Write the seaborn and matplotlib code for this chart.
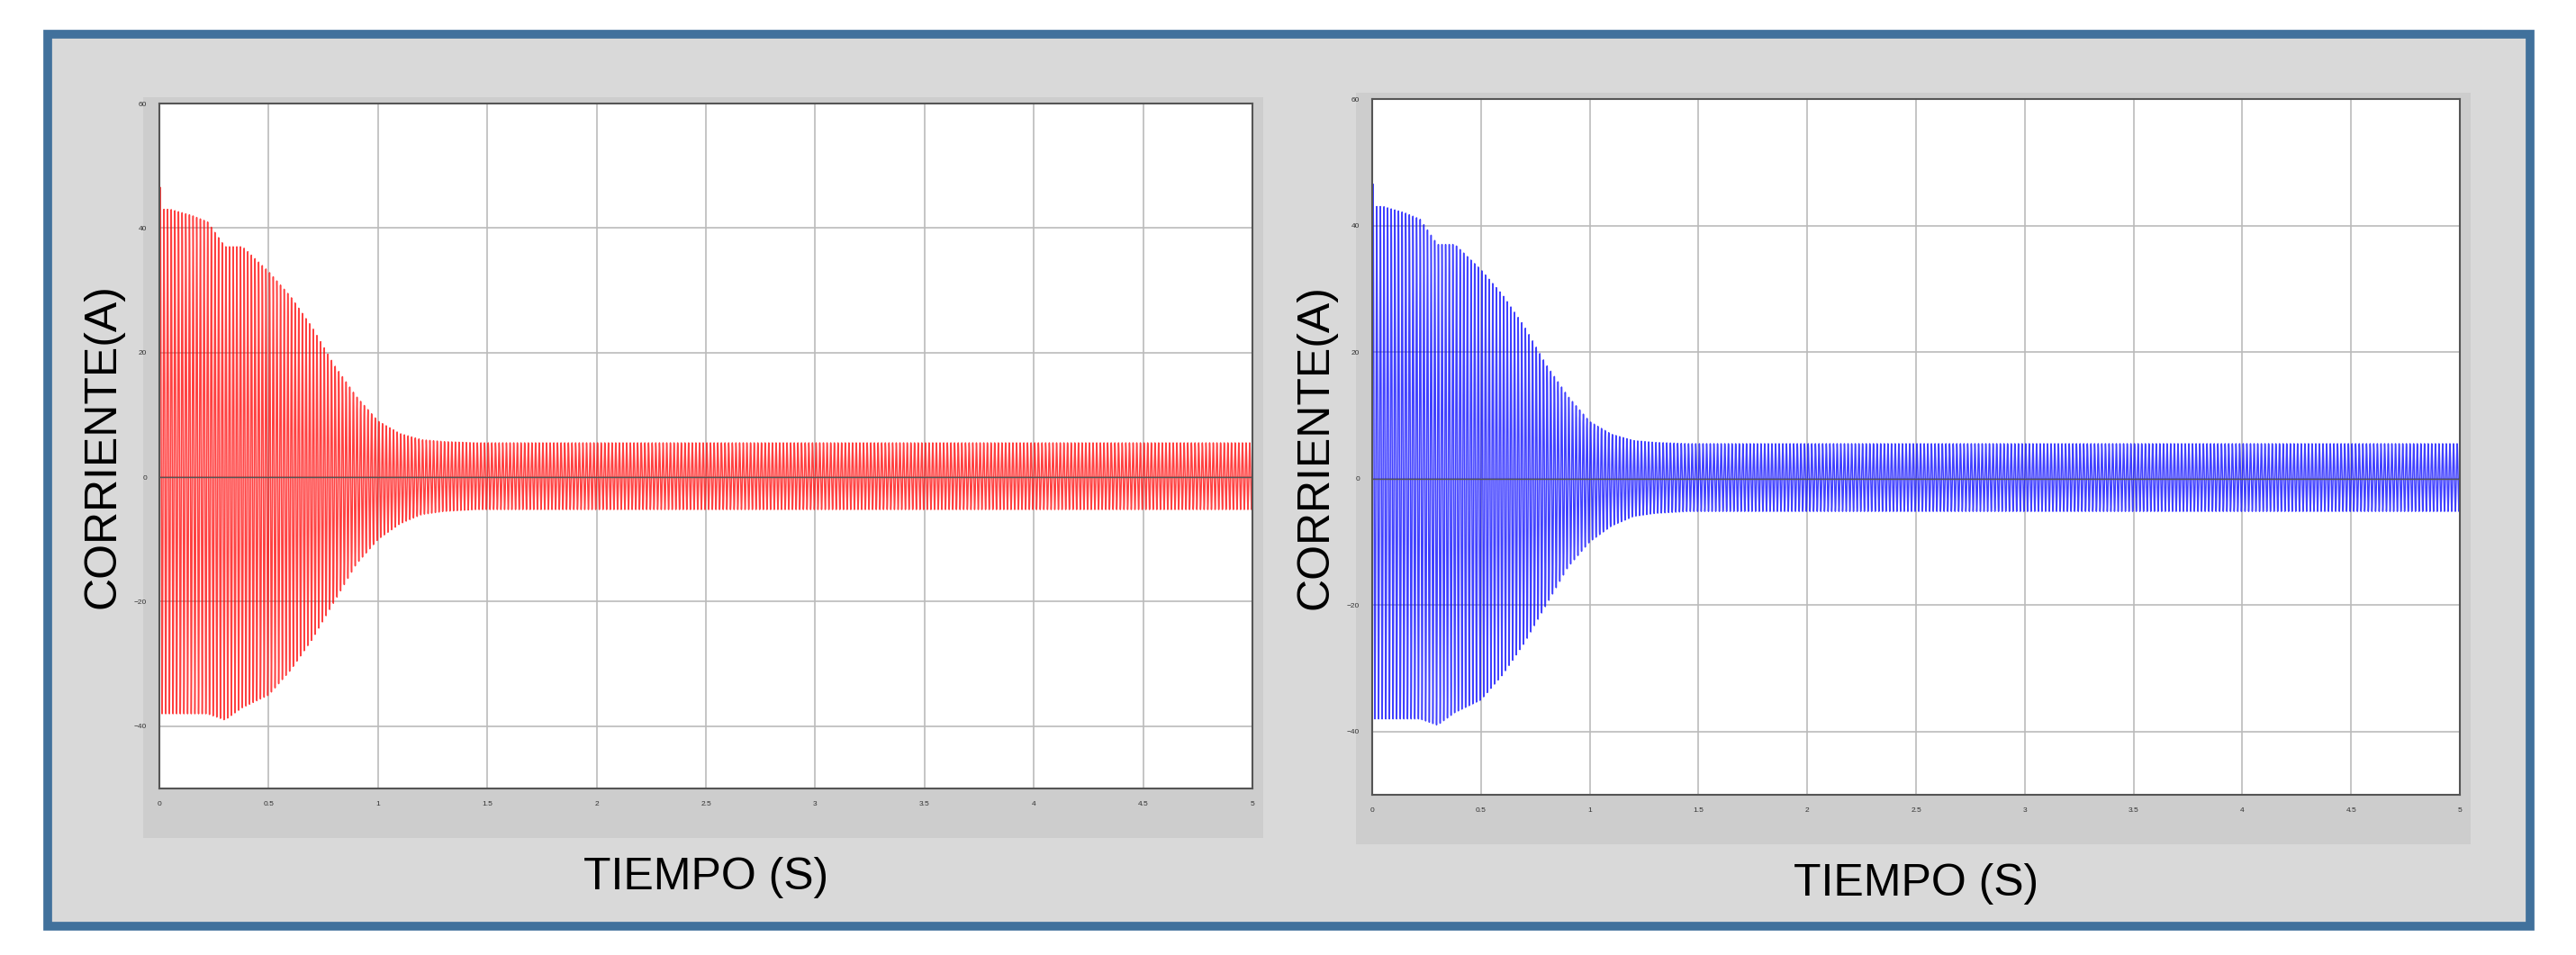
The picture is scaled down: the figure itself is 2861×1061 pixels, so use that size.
import numpy as np
import pandas as pd
import seaborn as sns
import matplotlib
matplotlib.use("Agg")
import matplotlib.pyplot as plt
from matplotlib.patches import Rectangle

sns.set_theme(style="white")
plt.rcParams['font.family'] = ['Liberation Sans', 'DejaVu Sans']

# Envelope (time s, upper A, lower A)
env_t = [0.0, 0.01, 0.05, 0.15, 0.22, 0.30, 0.38, 0.50, 0.60, 0.70, 0.80, 0.90, 1.00, 1.10, 1.20, 1.30, 1.45, 1.60, 5.0]
env_up = [49, 43, 43, 42, 41, 37, 37, 33, 29, 24, 18, 13, 9, 7, 6, 5.7, 5.5, 5.5, 5.5]
env_lo = [-38, -38, -38, -38, -38, -39, -37, -35, -31, -26, -20, -14, -10, -7.5, -6, -5.5, -5.2, -5.2, -5.2]
freq_hz = 60
x_ticks = [0, 0.5, 1, 1.5, 2, 2.5, 3, 3.5, 4, 4.5, 5]
x_tick_labels = ["0", "0.5", "1", "1.5", "2", "2.5", "3", "3.5", "4", "4.5", "5"]
y_ticks = [-40, -20, 0, 20, 40, 60]
colors = ["#ff0000", "#0000ff"]

t = np.linspace(0, 5, 60001)
up = np.interp(t, env_t, env_up)
lo = np.interp(t, env_t, env_lo)
mid = (up + lo) / 2
amp = (up - lo) / 2
cur = mid + amp * np.sin(2 * np.pi * freq_hz * t)
df = pd.DataFrame({"t": t, "i": cur})

W, H = 2861, 1061
fig = plt.figure(figsize=(W / 100, H / 100), dpi=100)
fig.patch.set_facecolor("white")
fig.add_artist(Rectangle((53 / W, 0.03), (2810 - 53) / W, (1061 - 38) / H - 0.03,
                         transform=fig.transFigure, facecolor="#d9d9d9",
                         edgecolor="#41719c", linewidth=7, zorder=-2))

boxes = [(177, 115, 1391, 876), (1524, 110, 2732, 883)]
for (x0, y0, x1, y1), c in zip(boxes, colors):
    fig.add_artist(Rectangle(((x0 - 18) / W, 1 - (y1 + 55) / H), (x1 - x0 + 30) / W, (y1 - y0 + 62) / H,
                             transform=fig.transFigure, facecolor="#cdcdcd", edgecolor="none", zorder=-1))
    ax = fig.add_axes([x0 / W, 1 - y1 / H, (x1 - x0) / W, (y1 - y0) / H])
    ax.set_facecolor("white")
    sns.lineplot(data=df, x="t", y="i", ax=ax, color=c, linewidth=1.1, alpha=0.75, estimator=None)
    ax.set_xlim(0, 5)
    ax.set_ylim(-50, 60)
    ax.set_xticks(x_ticks)
    ax.set_xticklabels(x_tick_labels)
    ax.set_yticks(y_ticks)
    ax.tick_params(labelsize=6, length=0, pad=10, colors="#333333")
    ax.grid(True, color="#bbbbbb", linewidth=1.2)
    ax.axhline(0, color="#555555", linewidth=1)
    for s in ax.spines.values():
        s.set_color("#555555")
        s.set_linewidth(1.5)
    ax.set_xlabel("TIEMPO (S)", fontsize=36, color="black", labelpad=40)
    ax.set_ylabel("CORRIENTE(A)", fontsize=36, color="black", labelpad=8)

fig.savefig("out.png", dpi=100)
